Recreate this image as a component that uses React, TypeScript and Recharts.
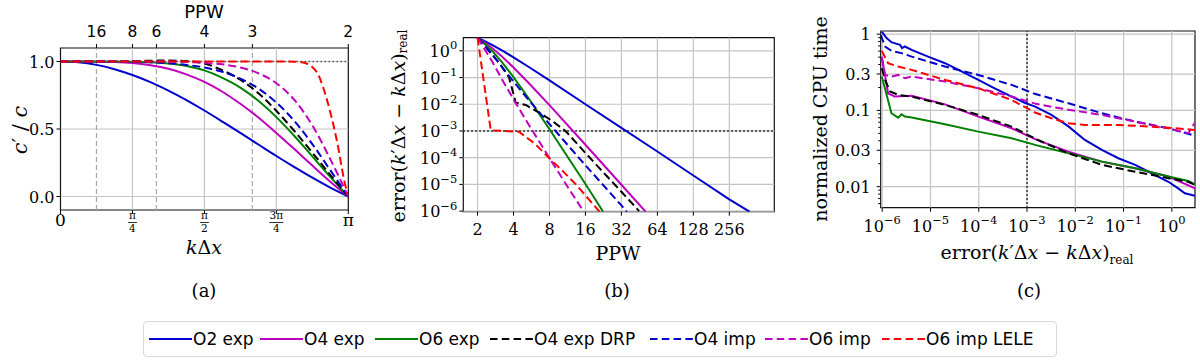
import React from 'react';
import { LineChart, Line, XAxis, YAxis, ReferenceLine, ReferenceArea } from 'recharts';

const PI = Math.PI;
const SERIF = '"DejaVu Serif", "Liberation Serif", serif';
const SANS = '"DejaVu Sans", "Liberation Sans", sans-serif';
const BLUE = '#0000cc';
const MAG = '#bf00bf';
const GREEN = '#008000';
const RED = '#ff0000';
const BLACK = '#000000';
const GRID = '#c4c4c4';
const DASH = '8 4';

// (a) c'/c against k dx
const kdx = [0, 0.196, 0.393, 0.589, 0.785, 0.982, 1.178, 1.374, 1.571, 1.767, 1.963, 2.16, 2.356, 2.553, 2.749, 2.945, 3.1416];
const ratioO2exp = [1, 0.994, 0.975, 0.943, 0.9, 0.847, 0.784, 0.714, 0.637, 0.555, 0.471, 0.385, 0.3, 0.218, 0.139, 0.066, 0];
const ratioO4exp = [1, 1, 0.999, 0.996, 0.988, 0.972, 0.946, 0.905, 0.849, 0.776, 0.687, 0.585, 0.471, 0.351, 0.229, 0.11, 0];
const ratioO6exp = [1, 1, 1, 1, 0.999, 0.995, 0.985, 0.967, 0.934, 0.879, 0.807, 0.709, 0.588, 0.448, 0.297, 0.145, 0];
const ratioO4drp = [1, 1, 1.001, 1.002, 1.003, 1.006, 1.007, 1.003, 0.985, 0.935, 0.865, 0.765, 0.635, 0.485, 0.325, 0.16, 0];
const ratioO4imp = [1, 1, 1, 0.999, 0.998, 0.994, 0.987, 0.975, 0.955, 0.923, 0.873, 0.8, 0.696, 0.559, 0.388, 0.195, 0];
const ratioO6imp = [1, 1, 1, 1, 1, 1, 0.999, 0.996, 0.99, 0.979, 0.956, 0.913, 0.839, 0.715, 0.527, 0.277, 0];
const kdxLele = [0, 1.571, 2.356, 2.55, 2.647, 2.742, 2.814, 2.869, 2.923, 2.978, 3.032, 3.07, 3.106, 3.1416];
const ratioLele = [1, 1, 1, 0.999, 0.993, 0.963, 0.902, 0.804, 0.681, 0.533, 0.361, 0.214, 0.091, 0];

const kdxTicks = [0, PI / 4, PI / 2, (3 * PI) / 4, PI];
const kdxTickLabels = [['0', ''], ['π', '4'], ['π', '2'], ['3π', '4'], ['π', '']];
const ppwTopTicks = [PI / 8, PI / 4, PI / 3, PI / 2, (2 * PI) / 3, PI];
const ppwTopLabels = ['16', '8', '6', '4', '3', '2'];
const ratioTicks = [0, 0.5, 1];
const ratioTickLabels = ['0.0', '0.5', '1.0'];

// (b) error against PPW
const ppwO2 = [2, 2.667, 3.2, 4, 5.333, 8, 16, 32, 64, 128, 256, 378];
const errO2 = [3.14, 1.65, 1.04, 0.571, 0.254, 0.078, 0.01, 1.3e-3, 1.7e-4, 2.15e-5, 2.75e-6, 9.5e-7];
const ppwO4 = [2, 2.667, 3.2, 4, 5.333, 8, 16, 32, 51];
const errO4 = [3.14, 1.25, 0.614, 0.238, 0.064, 9.3e-3, 3.06e-4, 9.7e-6, 9.5e-7];
const ppwO6 = [2, 2.667, 3.2, 4, 5.333, 8, 16, 22.5];
const errO6 = [3.14, 0.972, 0.378, 0.104, 0.0172, 1.16e-3, 1.03e-5, 9.5e-7];
const ppwDrp = [2, 3.03, 3.67, 4, 4.17, 5.06, 6.5, 8.4, 10.9, 16, 24, 32, 45];
const errDrp = [3.14, 0.36, 0.1, 0.024, 0.0115, 0.0094, 0.005, 2.4e-3, 1e-3, 1.5e-4, 2.1e-5, 5.3e-6, 1e-6];
const ppwO4imp = [2, 2.667, 3.2, 4, 5.333, 8, 16, 32, 35.5];
const errO4imp = [3.14, 0.715, 0.25, 0.0708, 0.0148, 1.8e-3, 5.2e-5, 1.63e-6, 9.5e-7];
const ppwO6imp = [2, 2.667, 3.2, 4, 5.333, 8, 12, 15.5];
const errO6imp = [3.14, 0.38, 0.087, 0.0152, 1.8e-3, 9.6e-5, 5.5e-6, 9.5e-7];
const ppwLele = [2, 2.58, 4.44, 6.1, 7.9, 10.3, 13.3, 21];
const errLele = [3.14, 1.06e-3, 9.4e-4, 3.2e-4, 1e-4, 3.2e-5, 1e-5, 9.5e-7];

const ppwTicks = [2, 4, 8, 16, 32, 64, 128, 256];
const ppwTickLabels = ['2', '4', '8', '16', '32', '64', '128', '256'];
const errTicks = [1e-6, 1e-5, 1e-4, 1e-3, 1e-2, 1e-1, 1];
const errTickExp = ['−6', '−5', '−4', '−3', '−2', '−1', '0'];

// (c) normalized CPU time against error
const cErrO2 = [9.8e-7, 1.23e-6, 1.55e-6, 2.0e-6, 2.34e-6, 2.57e-6, 2.95e-6, 4.07e-6, 8.9e-6, 2.0e-5, 4.4e-5, 9.8e-5, 2.14e-4, 4.8e-4, 8.9e-4, 1.48e-3, 3.2e-3, 7.2e-3, 0.0158, 0.0355, 0.078, 0.174, 0.38, 0.85, 1.35, 1.86, 3.02];
const cpuO2 = [1.08, 0.887, 0.785, 0.746, 0.724, 0.655, 0.689, 0.622, 0.508, 0.416, 0.324, 0.251, 0.195, 0.152, 0.126, 0.112, 0.0873, 0.0617, 0.041, 0.0303, 0.0236, 0.0193, 0.015, 0.0116, 0.0095, 0.0082, 0.0076];
const cErrO4 = [9.8e-7, 1.32e-6, 1.82e-6, 4.07e-6, 2.0e-5, 9.8e-5, 4.8e-4, 1.6e-3, 7.2e-3, 0.0355, 0.174, 0.85, 3.02];
const cpuO4 = [0.508, 0.168, 0.152, 0.156, 0.12, 0.083, 0.0583, 0.041, 0.0288, 0.0213, 0.0174, 0.0136, 0.0095];
const cErrO6 = [9.8e-7, 1.55e-6, 2.14e-6, 2.5e-6, 2.95e-6, 4.07e-6, 2.0e-5, 9.8e-5, 4.8e-4, 1.6e-3, 7.2e-3, 0.0355, 0.174, 0.85, 2.19, 3.02];
const cpuO6 = [0.278, 0.0918, 0.0805, 0.0891, 0.083, 0.0805, 0.0659, 0.0527, 0.0432, 0.0348, 0.0274, 0.0213, 0.0174, 0.0136, 0.0119, 0.0107];
const cErrDrp = [9.8e-7, 1.15e-6, 1.45e-6, 2.14e-6, 4.07e-6, 2.0e-5, 9.8e-5, 4.8e-4, 1.6e-3, 7.2e-3, 0.0355, 0.174, 0.85, 2.19, 3.02];
const cpuDrp = [0.358, 0.251, 0.177, 0.16, 0.152, 0.118, 0.0873, 0.0612, 0.0415, 0.0274, 0.0193, 0.0157, 0.0129, 0.0116, 0.0105];
const cErrO4imp = [9.3e-7, 1.15e-6, 1.55e-6, 2.5e-6, 4.07e-6, 8.9e-6, 2.0e-5, 9.8e-5, 4.8e-4, 1.45e-3, 7.2e-3, 0.0355, 0.174, 0.85, 2.57, 3.02];
const cpuO4imp = [0.98, 0.687, 0.604, 0.564, 0.508, 0.437, 0.376, 0.292, 0.216, 0.165, 0.124, 0.0918, 0.0713, 0.0583, 0.0479, 0.0518];
const cErrO6imp = [9.8e-7, 1.15e-6, 1.55e-6, 2.14e-6, 2.95e-6, 4.07e-6, 2.0e-5, 9.8e-5, 4.8e-4, 1.6e-3, 7.2e-3, 0.0355, 0.174, 0.85, 2.19, 2.57, 2.95];
const cpuO6imp = [0.484, 0.292, 0.278, 0.292, 0.265, 0.278, 0.239, 0.195, 0.152, 0.121, 0.102, 0.0873, 0.0713, 0.0583, 0.0502, 0.0583, 0.0679];
const cErrLele = [9.8e-7, 1.32e-6, 2.14e-6, 4.07e-6, 2.0e-5, 9.8e-5, 4.8e-4, 1.5e-3, 3.2e-3, 7.2e-3, 0.0158, 0.078, 0.38, 1.86, 3.02];
const cpuLele = [0.604, 0.416, 0.376, 0.34, 0.251, 0.195, 0.137, 0.093, 0.079, 0.0679, 0.0646, 0.0646, 0.0612, 0.0571, 0.0555];

const cpuTicks = [0.01, 0.03, 0.1, 0.3, 1];
const cpuTickLabels = ['0.01', '0.03', '0.1', '0.3', '1'];
const cpuMinorTicks = [0.006, 0.007, 0.008, 0.009, 0.02, 0.04, 0.05, 0.06, 0.07, 0.08, 0.09, 0.2, 0.4, 0.5, 0.6, 0.7, 0.8, 0.9];

const legendItems = [
  { name: 'O2 exp', color: BLUE, dashed: false, left: 149 },
  { name: 'O4 exp', color: MAG, dashed: false, left: 260 },
  { name: 'O6 exp', color: GREEN, dashed: false, left: 375 },
  { name: 'O4 exp DRP', color: BLACK, dashed: true, left: 490 },
  { name: 'O4 imp', color: BLUE, dashed: true, left: 650 },
  { name: 'O6 imp', color: MAG, dashed: true, left: 765 },
  { name: 'O6 imp LELE', color: RED, dashed: true, left: 882 },
];

const pts = (xs: number[], ys: number[]) => xs.map((x, i) => ({ x, y: ys[i] }));
const findIdx = (arr: number[], v: number) => arr.findIndex((t) => Math.abs(t - v) <= Math.abs(v) * 1e-6 + 1e-9);

const seriesA = [
  { key: 'o2', data: pts(kdx, ratioO2exp), color: BLUE },
  { key: 'o4', data: pts(kdx, ratioO4exp), color: MAG },
  { key: 'o6', data: pts(kdx, ratioO6exp), color: GREEN },
  { key: 'drp', data: pts(kdx, ratioO4drp), color: BLACK, dash: DASH },
  { key: 'o4i', data: pts(kdx, ratioO4imp), color: BLUE, dash: DASH },
  { key: 'o6i', data: pts(kdx, ratioO6imp), color: MAG, dash: DASH },
  { key: 'lele', data: pts(kdxLele, ratioLele), color: RED, dash: DASH },
];

const seriesB = [
  { key: 'o2', data: pts(ppwO2, errO2), color: BLUE },
  { key: 'o4', data: pts(ppwO4, errO4), color: MAG },
  { key: 'o6', data: pts(ppwO6, errO6), color: GREEN },
  { key: 'drp', data: pts(ppwDrp, errDrp), color: BLACK, dash: DASH },
  { key: 'o4i', data: pts(ppwO4imp, errO4imp), color: BLUE, dash: DASH },
  { key: 'o6i', data: pts(ppwO6imp, errO6imp), color: MAG, dash: DASH },
  { key: 'lele', data: pts(ppwLele, errLele), color: RED, dash: DASH },
];

const seriesC = [
  { key: 'o2', data: pts(cErrO2, cpuO2), color: BLUE },
  { key: 'o4', data: pts(cErrO4, cpuO4), color: MAG },
  { key: 'o6', data: pts(cErrO6, cpuO6), color: GREEN },
  { key: 'drp', data: pts(cErrDrp, cpuDrp), color: BLACK, dash: DASH },
  { key: 'o4i', data: pts(cErrO4imp, cpuO4imp), color: BLUE, dash: DASH },
  { key: 'o6i', data: pts(cErrO6imp, cpuO6imp), color: MAG, dash: DASH },
  { key: 'lele', data: pts(cErrLele, cpuLele), color: RED, dash: DASH },
];

// tick renderers (tickSize/tickMargin are 0, so x/y sit on the frame)
const KdxTick = (p: any) => {
  const i = findIdx(kdxTicks, p.payload.value);
  const [num, den] = kdxTickLabels[i] ?? ['', ''];
  const { x, y } = p;
  const half = num.length > 1 ? 7 : 4.5;
  return (
    <g>
      <line x1={x} x2={x} y1={y} y2={y + 4} stroke="#000" />
      {den ? (
        <g fontFamily={SERIF} fontSize={10.5} textAnchor="middle">
          <text x={x} y={y + 9}>{num}</text>
          <line x1={x - half} x2={x + half} y1={y + 12.5} y2={y + 12.5} stroke="#000" strokeWidth={0.8} />
          <text x={x} y={y + 22}>{den}</text>
        </g>
      ) : (
        <text x={x} y={y + 15.5} textAnchor="middle" fontFamily={SERIF} fontSize={17}>{num}</text>
      )}
    </g>
  );
};

// PPW ticks along the top of (a), hung on reference lines
const ppwTopLabel = (i: number) => (lp: any) => {
  const vb = lp.viewBox || {};
  return (
    <g>
      <line x1={vb.x} x2={vb.x} y1={vb.y} y2={vb.y - 4} stroke="#000" />
      <text x={vb.x} y={vb.y - 11} textAnchor="middle" fontFamily={SANS} fontSize={15.5}>{ppwTopLabels[i]}</text>
    </g>
  );
};

const RatioTick = (p: any) => {
  const i = findIdx(ratioTicks, p.payload.value);
  return (
    <g>
      <line x1={p.x - 4} x2={p.x} y1={p.y} y2={p.y} stroke="#000" />
      <text x={p.x - 6} y={p.y + 6} textAnchor="end" fontFamily={SERIF} fontSize={16}>{ratioTickLabels[i]}</text>
    </g>
  );
};

const PpwTick = (p: any) => {
  const i = findIdx(ppwTicks, p.payload.value);
  return (
    <g>
      <line x1={p.x} x2={p.x} y1={p.y} y2={p.y + 4} stroke="#000" />
      <text x={p.x} y={p.y + 23} textAnchor="middle" fontFamily={SERIF} fontSize={16}>{ppwTickLabels[i]}</text>
    </g>
  );
};

const ErrYTick = (p: any) => {
  const i = findIdx(errTicks, p.payload.value);
  return (
    <g>
      <line x1={p.x - 4} x2={p.x} y1={p.y} y2={p.y} stroke="#000" />
      <text x={p.x - 6} y={p.y + 6} textAnchor="end" fontFamily={SERIF} fontSize={16}>
        10<tspan dy={-7.5} fontSize={11.5}>{errTickExp[i]}</tspan>
      </text>
    </g>
  );
};

const ErrXTick = (p: any) => {
  const i = findIdx(errTicks, p.payload.value);
  return (
    <g>
      <line x1={p.x} x2={p.x} y1={p.y} y2={p.y + 4} stroke="#000" />
      <text x={p.x} y={p.y + 24} textAnchor="middle" fontFamily={SERIF} fontSize={16}>
        10<tspan dy={-7.5} fontSize={11.5}>{errTickExp[i]}</tspan>
      </text>
    </g>
  );
};

const CpuTick = (p: any) => {
  const i = findIdx(cpuTicks, p.payload.value);
  if (i < 0) return <line x1={p.x - 2.5} x2={p.x} y1={p.y} y2={p.y} stroke="#000" />;
  return (
    <g>
      <line x1={p.x - 4} x2={p.x} y1={p.y} y2={p.y} stroke="#000" />
      <text x={p.x - 10} y={p.y + 6} textAnchor="end" fontFamily={SERIF} fontSize={16}>{cpuTickLabels[i]}</text>
    </g>
  );
};

const axisBase = { type: 'number' as const, allowDataOverflow: true, tickSize: 0, tickMargin: 0, axisLine: false, interval: 0 as const };

const gridLine = { stroke: GRID, strokeWidth: 1.2 };
const dotted = { stroke: '#000', strokeWidth: 1.5, strokeDasharray: '1.5 2.5' };

function PanelA() {
  return (
    <LineChart width={360} height={252} margin={{ top: 48, right: 11.7, bottom: 0, left: 0.5 }}>
      <XAxis {...axisBase} dataKey="x" domain={[0, PI]} ticks={kdxTicks} tick={KdxTick} height={42} />
      <YAxis {...axisBase} domain={[-0.1, 1.1]} ticks={ratioTicks} tick={RatioTick} width={60} />
      {[PI / 4, PI / 2, (3 * PI) / 4].map((v) => <ReferenceLine key={v} x={v} {...gridLine} />)}
      {[0, 0.5, 1].map((v) => <ReferenceLine key={v} y={v} {...gridLine} />)}
      {[PI / 8, PI / 3, (2 * PI) / 3].map((v) => (
        <ReferenceLine key={v} x={v} stroke="#a8a8a8" strokeWidth={1.2} strokeDasharray="5 3" />
      ))}
      <ReferenceLine y={1} {...dotted} stroke="#555" />
      {seriesA.map((s) => (
        <Line key={s.key} data={s.data} dataKey="y" type="monotone" stroke={s.color} strokeWidth={2} strokeDasharray={s.dash} dot={false} isAnimationActive={false} />
      ))}
      <ReferenceArea x1={0} x2={PI} y1={-0.1} y2={1.1} fill="none" stroke="#111" strokeWidth={1.2} />
      {ppwTopTicks.map((v, i) => (
        <ReferenceLine key={'top' + i} x={v} stroke="none" label={ppwTopLabel(i)} />
      ))}
    </LineChart>
  );
}

function PanelB() {
  return (
    <LineChart width={400} height={242} margin={{ top: 37.7, right: 5.7, bottom: 0, left: 0.3 }}>
      <XAxis {...axisBase} dataKey="x" scale="log" domain={[1.52, 609]} ticks={ppwTicks} tick={PpwTick} height={30.3} />
      <YAxis {...axisBase} scale="log" domain={[9.5e-7, 3.1]} ticks={errTicks} tick={ErrYTick} width={83} />
      {ppwTicks.map((v) => <ReferenceLine key={v} x={v} {...gridLine} />)}
      {errTicks.map((v) => <ReferenceLine key={v} y={v} {...gridLine} />)}
      <ReferenceLine y={1e-3} {...dotted} />
      {seriesB.map((s) => (
        <Line key={s.key} data={s.data} dataKey="y" type="linear" stroke={s.color} strokeWidth={2} strokeDasharray={s.dash} dot={false} isAnimationActive={false} />
      ))}
      <ReferenceArea x1={1.52} x2={609} y1={9.5e-7} y2={3.1} fill="none" stroke="#111" strokeWidth={1.2} />
    </LineChart>
  );
}

function PanelC() {
  return (
    <LineChart width={410} height={237.7} margin={{ top: 31, right: 5, bottom: 0, left: 0.7 }}>
      <XAxis {...axisBase} dataKey="x" scale="log" domain={[9.3e-7, 3.02]} ticks={errTicks} tick={ErrXTick} height={30} />
      <YAxis {...axisBase} scale="log" domain={[0.0053, 1.1]} ticks={[...cpuTicks, ...cpuMinorTicks]} tick={CpuTick} width={90} />
      {errTicks.map((v) => <ReferenceLine key={v} x={v} {...gridLine} />)}
      {cpuTicks.map((v) => <ReferenceLine key={v} y={v} {...gridLine} />)}
      <ReferenceLine x={1e-3} {...dotted} />
      {seriesC.map((s) => (
        <Line key={s.key} data={s.data} dataKey="y" type="linear" stroke={s.color} strokeWidth={2} strokeDasharray={s.dash} dot={false} isAnimationActive={false} />
      ))}
      <ReferenceArea x1={9.3e-7} x2={3.02} y1={0.0053} y2={1.1} fill="none" stroke="#111" strokeWidth={1.2} />
    </LineChart>
  );
}

const ErrLabel = () => (
  <>
    error(<tspan fontStyle="italic">k</tspan>′Δ<tspan fontStyle="italic">x</tspan> − <tspan fontStyle="italic">k</tspan>Δ
    <tspan fontStyle="italic">x</tspan>)<tspan dy={5} fontSize={12}>real</tspan>
  </>
);

function Labels() {
  return (
    <svg width={1200} height={360} style={{ position: 'absolute', left: 0, top: 0, pointerEvents: 'none' }}>
      <g fontFamily={SERIF} fontSize={19}>
        <text x={204} y={18} textAnchor="middle" fontFamily={SANS} fontSize={18}>PPW</text>
        <text transform="translate(20,130) rotate(-90)" textAnchor="middle" dominantBaseline="central" fontSize={21}>
          <tspan fontStyle="italic">c</tspan>′ / <tspan fontStyle="italic">c</tspan>
        </text>
        <text x={204} y={254} textAnchor="middle" fontSize={19}>
          <tspan fontStyle="italic">k</tspan>Δ<tspan fontStyle="italic">x</tspan>
        </text>
        <text x={204} y={297} textAnchor="middle" fontSize={18}>(a)</text>

        <text transform="translate(398,126) rotate(-90)" textAnchor="middle" dominantBaseline="central">
          <ErrLabel />
        </text>
        <text x={618} y={260} textAnchor="middle">PPW</text>
        <text x={617} y={297} textAnchor="middle" fontSize={18}>(b)</text>

        <text transform="translate(820,119) rotate(-90)" textAnchor="middle" dominantBaseline="central">normalized CPU time</text>
        <text x={1037} y={259} textAnchor="middle">
          <ErrLabel />
        </text>
        <text x={1029} y={297} textAnchor="middle" fontSize={18}>(c)</text>
      </g>
    </svg>
  );
}

function Legend() {
  return (
    <div
      style={{
        position: 'absolute', left: 143, top: 321, width: 914, height: 36, boxSizing: 'border-box',
        border: '1px solid #d8d8d8', borderRadius: 4, fontFamily: SANS, fontSize: 17, background: '#fff',
      }}
    >
      {legendItems.map((it) => (
        <div
          key={it.name}
          style={{ position: 'absolute', left: it.left - 144, top: 0, height: 34, display: 'flex', alignItems: 'center', whiteSpace: 'nowrap' }}
        >
          <svg width={43} height={4}>
            <line x1={0} x2={43} y1={2} y2={2} stroke={it.color} strokeWidth={2} strokeDasharray={it.dashed ? '7.5 4.3' : undefined} />
          </svg>
          <span style={{ marginLeft: 1 }}>{it.name}</span>
        </div>
      ))}
    </div>
  );
}

export default function App() {
  return (
    <div style={{ position: 'absolute', left: 0, top: 0, width: 1200, height: 360, background: '#fff' }}>
      <div style={{ position: 'absolute', left: 0, top: 0 }}>
        <PanelA />
      </div>
      <div style={{ position: 'absolute', left: 380, top: 0 }}>
        <PanelB />
      </div>
      <div style={{ position: 'absolute', left: 790, top: 0 }}>
        <PanelC />
      </div>
      <Labels />
      <Legend />
    </div>
  );
}
